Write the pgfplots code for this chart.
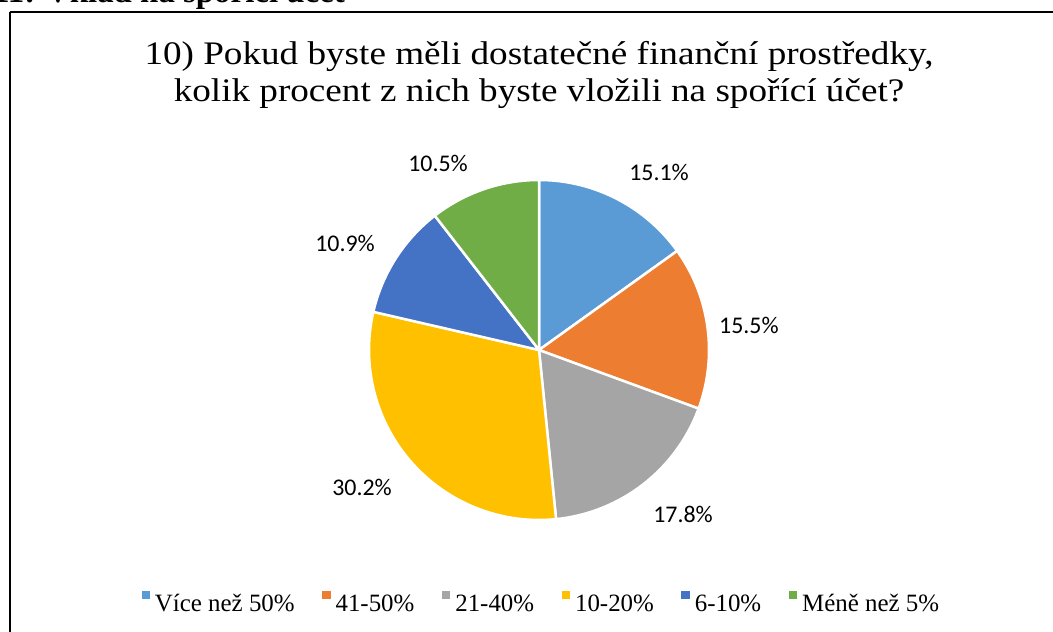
\documentclass[border=0pt]{standalone}
\usepackage{pgfplots}
\pgfplotsset{compat=1.18}
\usepackage{pgfplotstable}
\usepackage{fontspec}
\setmainfont{Liberation Serif}
\newfontfamily\lblfont{Carlito}
\definecolor{c0}{HTML}{5B9BD5}
\definecolor{c1}{HTML}{ED7D31}
\definecolor{c2}{HTML}{A5A5A5}
\definecolor{c3}{HTML}{FFC000}
\definecolor{c4}{HTML}{4472C4}
\definecolor{c5}{HTML}{70AD47}
\pgfplotstableread{
value lx ly
15.1 0.706 1.047
15.5 1.235 0.147
17.8 0.847 -0.965
30.2 -1.041 -0.806
10.9 -1.141 0.629
10.5 -0.594 1.100
}\piedata
\begin{document}
\begin{tikzpicture}[x=1bp,y=1bp]
\useasboundingbox (0,0) rectangle (1053,632);
\fill[white] (0,0) rectangle (1053,632);
\draw[black, line width=2.5bp] (10,620) -- (1070,620) (10,620) -- (10,-20);
\node[anchor=base east, font=\fontsize{33}{37}\selectfont\bfseries, inner sep=0pt] at (345,629.5) {Graf 11: Vklad na spořicí účet};
\node[font=\fontsize{33}{37}\selectfont, inner sep=0pt, anchor=base] at (539,567) {\scalebox{1.13}[1]{10) Pokud byste měli dostatečné finanční prostředky,}};
\node[font=\fontsize{33}{37}\selectfont, inner sep=0pt, anchor=base] at (539,530) {\scalebox{1.13}[1]{kolik procent z nich byste vložili na spořící účet?}};
\begin{axis}[at={(539bp,282bp)}, anchor=center, width=340bp, height=340bp,
  scale only axis, hide axis, xmin=-1, xmax=1, ymin=-1, ymax=1, clip=false,
  legend columns=6,
  legend style={at={(0.512,-0.244)}, anchor=center, draw=none, fill=none,
    font=\fontsize{25}{28}\selectfont,
    /tikz/every even column/.append style={column sep=22bp},
    /tikz/every odd column/.append style={column sep=0bp},
    nodes={inner xsep=5.5bp}},
  legend image code/.code={\fill[#1] (0bp,5bp) rectangle (7.5bp,12.5bp);}]
\addlegendimage{c0}\addlegendentry{Více než 50\%}
\addlegendimage{c1}\addlegendentry{41-50\%}
\addlegendimage{c2}\addlegendentry{21-40\%}
\addlegendimage{c3}\addlegendentry{10-20\%}
\addlegendimage{c4}\addlegendentry{6-10\%}
\addlegendimage{c5}\addlegendentry{Méně než 5\%}
\pgfplotsextra{
  \xdef\acc{0}
  \foreach \i in {0,...,5} {
    \pgfplotstablegetelem{\i}{value}\of\piedata \let\v\pgfplotsretval
    \pgfplotstablegetelem{\i}{lx}\of\piedata \let\lx\pgfplotsretval
    \pgfplotstablegetelem{\i}{ly}\of\piedata \let\ly\pgfplotsretval
    \pgfmathsetmacro\sa{90-3.6*\acc}
    \pgfmathsetmacro\ea{90-3.6*(\acc+\v)}
    \fill[c\i, draw=white, line width=2.5bp, line join=round] (axis cs:0,0) -- (axis cs:{cos(\sa)},{sin(\sa)}) arc[start angle=\sa, end angle=\ea, radius=170bp] -- cycle;
    \node[font=\fontsize{24}{27}\selectfont\lblfont] at (axis cs:\lx,\ly) {\pgfmathprintnumber[assume math mode=true,fixed,precision=1,fixed zerofill]{\v}\%};
    \pgfmathsetmacro\newacc{\acc+\v}
    \xdef\acc{\newacc}
  }
}
\end{axis}
\end{tikzpicture}
\end{document}
